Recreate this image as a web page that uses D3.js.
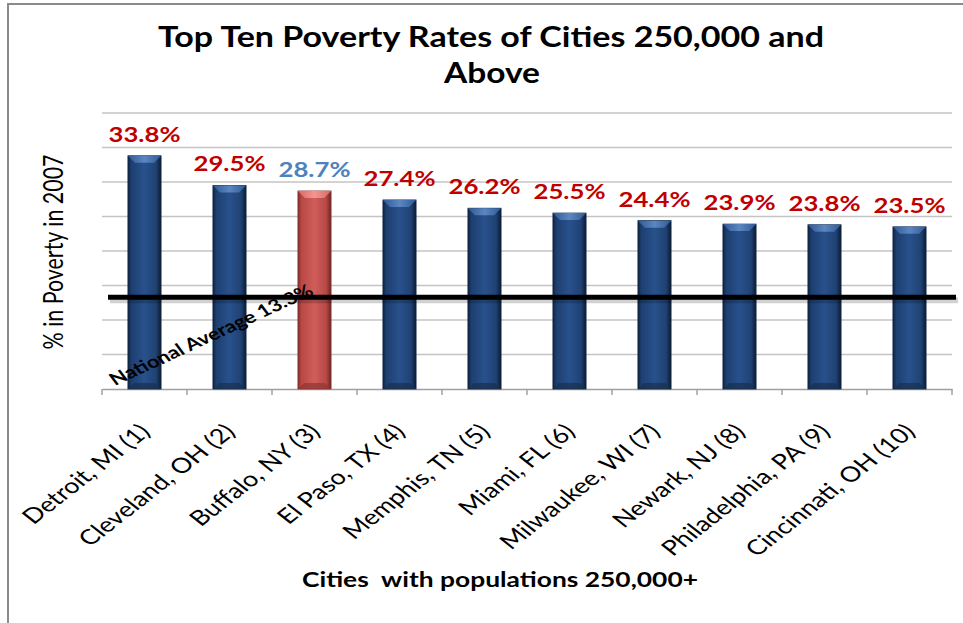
<!DOCTYPE html>
<html>
<head>
<meta charset="utf-8">
<script src="https://cdn.jsdelivr.net/npm/d3@7"></script>
<style>
  body { margin: 0; background: #fff; }
  text { font-family: Lato, "Open Sans", sans-serif; }
</style>
</head>
<body>
<div class="chart"></div>
<script>
// chart data
var cities = ["Detroit, MI (1)", "Cleveland, OH (2)", "Buffalo, NY (3)", "El Paso, TX (4)",
  "Memphis, TN (5)", "Miami, FL (6)", "Milwaukee, WI (7)", "Newark, NJ (8)",
  "Philadelphia, PA (9)", "Cincinnati, OH (10)"];
var rates = [33.8, 29.5, 28.7, 27.4, 26.2, 25.5, 24.4, 23.9, 23.8, 23.5];
var highlighted = ["Buffalo, NY (3)"];
var gridTicks = [5, 10, 15, 20, 25, 30, 35, 40];
var nationalAverage = 13.3;

var svgWidth = 963;
var svgHeight = 623;
var margin = { top: 113, right: 11, bottom: 234, left: 102 };
var width = svgWidth - margin.left - margin.right;
var height = svgHeight - margin.top - margin.bottom;

// the original picture is stretched sideways, so text gets the same stretch
var stretch = 1.28;

var svg = d3.select(".chart")
  .append("svg")
  .attr("width", svgWidth)
  .attr("height", svgHeight);

// gradients for the cylinder-ish bars
var defs = svg.append("defs");
function sideGradient(id, stops) {
  var g = defs.append("linearGradient").attr("id", id)
    .attr("x1", "0").attr("x2", "1").attr("y1", "0").attr("y2", "0");
  stops.forEach(function(s) {
    g.append("stop").attr("offset", s[0]).attr("stop-color", s[1]);
  });
}
sideGradient("blueSide", [[0, "#0e213d"], [0.1, "#1d3f70"], [0.5, "#28518c"], [0.85, "#1f4273"], [1, "#0b1a30"]]);
sideGradient("redSide", [[0, "#7d2b29"], [0.1, "#b74845"], [0.5, "#d05d59"], [0.85, "#b84946"], [1, "#6e2422"]]);
sideGradient("blueTop", [[0, "#2f5a96"], [0.5, "#5b86c0"], [1, "#2f5a96"]]);
sideGradient("redTop", [[0, "#d66a66"], [0.5, "#f29591"], [1, "#d66a66"]]);

// outer frame
svg.append("rect")
  .attr("x", 8).attr("y", 4)
  .attr("width", svgWidth).attr("height", svgHeight)
  .attr("fill", "none").attr("stroke", "#8a8a8a").attr("stroke-width", 2);

var chart = svg.append("g")
  .attr("transform", "translate(" + margin.left + "," + margin.top + ")");

var xBandScale = d3.scaleBand().domain(cities).range([0, width]).paddingInner(0.61).paddingOuter(0.305);
var xOuter = d3.scaleBand().domain(cities).range([0, width]);
var yLinearScale = d3.scaleLinear().domain([0, 40]).range([height, 0]);

// gridlines
chart.append("g")
  .selectAll("line")
  .data(gridTicks)
  .enter()
  .append("line")
  .attr("x1", 0).attr("x2", width)
  .attr("y1", function(d) { return yLinearScale(d); })
  .attr("y2", function(d) { return yLinearScale(d); })
  .attr("stroke", "#c4c4c4").attr("stroke-width", 1.5);

// x axis line and ticks
var bottomAxis = d3.axisBottom(xOuter).tickSize(0).tickFormat("");
var xAxis = chart.append("g")
  .attr("transform", "translate(0," + height + ")")
  .call(bottomAxis);
xAxis.select(".domain").attr("stroke", "#a0a0a0").attr("stroke-width", 1.5);
xAxis.selectAll(".bound")
  .data(d3.range(cities.length + 1))
  .enter()
  .append("line")
  .attr("class", "bound")
  .attr("x1", function(i) { return i * xOuter.step(); })
  .attr("x2", function(i) { return i * xOuter.step(); })
  .attr("y1", 0).attr("y2", 6)
  .attr("stroke", "#a0a0a0").attr("stroke-width", 1.5);

// bars
var bars = chart.selectAll(".bar")
  .data(cities)
  .enter()
  .append("g")
  .attr("class", "bar")
  .attr("transform", function(d) { return "translate(" + xBandScale(d) + ",0)"; });

bars.append("rect")
  .attr("x", 0)
  .attr("y", function(d, i) { return yLinearScale(rates[i]); })
  .attr("width", xBandScale.bandwidth())
  .attr("height", function(d, i) { return height - yLinearScale(rates[i]); })
  .attr("fill", function(d) { return highlighted.indexOf(d) >= 0 ? "url(#redSide)" : "url(#blueSide)"; })
  .attr("stroke", function(d) { return highlighted.indexOf(d) >= 0 ? "#8a3532" : "#14294a"; })
  .attr("stroke-width", 0.8);

// top bevel
bars.append("path")
  .attr("d", function(d, i) {
    var w = xBandScale.bandwidth();
    var y0 = yLinearScale(rates[i]);
    return "M0," + y0 + "L" + w + "," + y0 + "L" + (w - 7) + "," + (y0 + 7) + "L7," + (y0 + 7) + "Z";
  })
  .attr("fill", function(d) { return highlighted.indexOf(d) >= 0 ? "url(#redTop)" : "url(#blueTop)"; });

// bottom bevel
bars.append("path")
  .attr("d", function(d) {
    var w = xBandScale.bandwidth();
    return "M0," + height + "L" + w + "," + height + "L" + (w - 6) + "," + (height - 6) + "L6," + (height - 6) + "Z";
  })
  .attr("fill", function(d) { return highlighted.indexOf(d) >= 0 ? "#8e3532" : "#17304f"; })
  .attr("opacity", 0.7);

// value labels
chart.selectAll(".value")
  .data(cities)
  .enter()
  .append("text")
  .attr("class", "value")
  .attr("x", function(d) { return xOuter(d) + xOuter.bandwidth() / 2; })
  .attr("y", function(d, i) { return yLinearScale(rates[i]) - 14; })
  .attr("text-anchor", "middle")
  .attr("font-size", "21px")
  .attr("font-weight", "bold")
  .attr("textLength", 72)
  .attr("lengthAdjust", "spacingAndGlyphs")
  .attr("fill", function(d) { return highlighted.indexOf(d) >= 0 ? "#4f81bd" : "#c00000"; })
  .text(function(d, i) { return rates[i].toFixed(1) + "%"; });

// national average line (with a soft shadow)
var avgY = yLinearScale(nationalAverage);
chart.append("line")
  .attr("x1", 8).attr("x2", width + 6)
  .attr("y1", avgY + 3).attr("y2", avgY + 3)
  .attr("stroke", "#000").attr("stroke-opacity", 0.18).attr("stroke-width", 6);
chart.append("line")
  .attr("x1", 6).attr("x2", width + 4)
  .attr("y1", avgY).attr("y2", avgY)
  .attr("stroke", "#000").attr("stroke-width", 5);

chart.append("text")
  .attr("transform", "translate(13," + (height - 3) + ") scale(" + stretch + ",1) rotate(-30.5)")
  .attr("font-size", "17px")
  .attr("font-weight", "bold")
  .attr("fill", "#000")
  .text("National Average 13.3%");

// x tick labels
chart.selectAll(".city")
  .data(cities)
  .enter()
  .append("text")
  .attr("class", "city")
  .attr("transform", function(d) {
    return "translate(" + (xOuter(d) + xOuter.bandwidth() / 2 + 7) + "," + (height + 44) + ") scale(" + stretch + ",1) rotate(-45)";
  })
  .attr("text-anchor", "end")
  .attr("font-size", "21px")
  .attr("fill", "#000")
  .text(function(d) { return d; });

// titles
var title = svg.append("text")
  .attr("text-anchor", "middle")
  .attr("font-size", "28px")
  .attr("font-weight", "bold")
  .attr("fill", "#000");
title.append("tspan").attr("x", 491).attr("y", 47)
  .attr("textLength", 666).attr("lengthAdjust", "spacingAndGlyphs")
  .text("Top Ten Poverty Rates of Cities 250,000 and");
title.append("tspan").attr("x", 492).attr("y", 83)
  .attr("textLength", 96).attr("lengthAdjust", "spacingAndGlyphs")
  .text("Above");

svg.append("text")
  .attr("transform", "translate(63,252) scale(" + stretch + ",1) rotate(-90)")
  .attr("text-anchor", "middle")
  .attr("font-size", "21px")
  .attr("textLength", 195)
  .attr("lengthAdjust", "spacingAndGlyphs")
  .attr("fill", "#000")
  .text("% in Poverty in 2007");

svg.append("text")
  .attr("x", 500).attr("y", 587)
  .attr("text-anchor", "middle")
  .attr("font-size", "20px")
  .attr("font-weight", "bold")
  .attr("textLength", 396)
  .attr("lengthAdjust", "spacingAndGlyphs")
  .attr("fill", "#000")
  .style("white-space", "pre")
  .text("Cities  with populations 250,000+");
</script>
</body>
</html>
